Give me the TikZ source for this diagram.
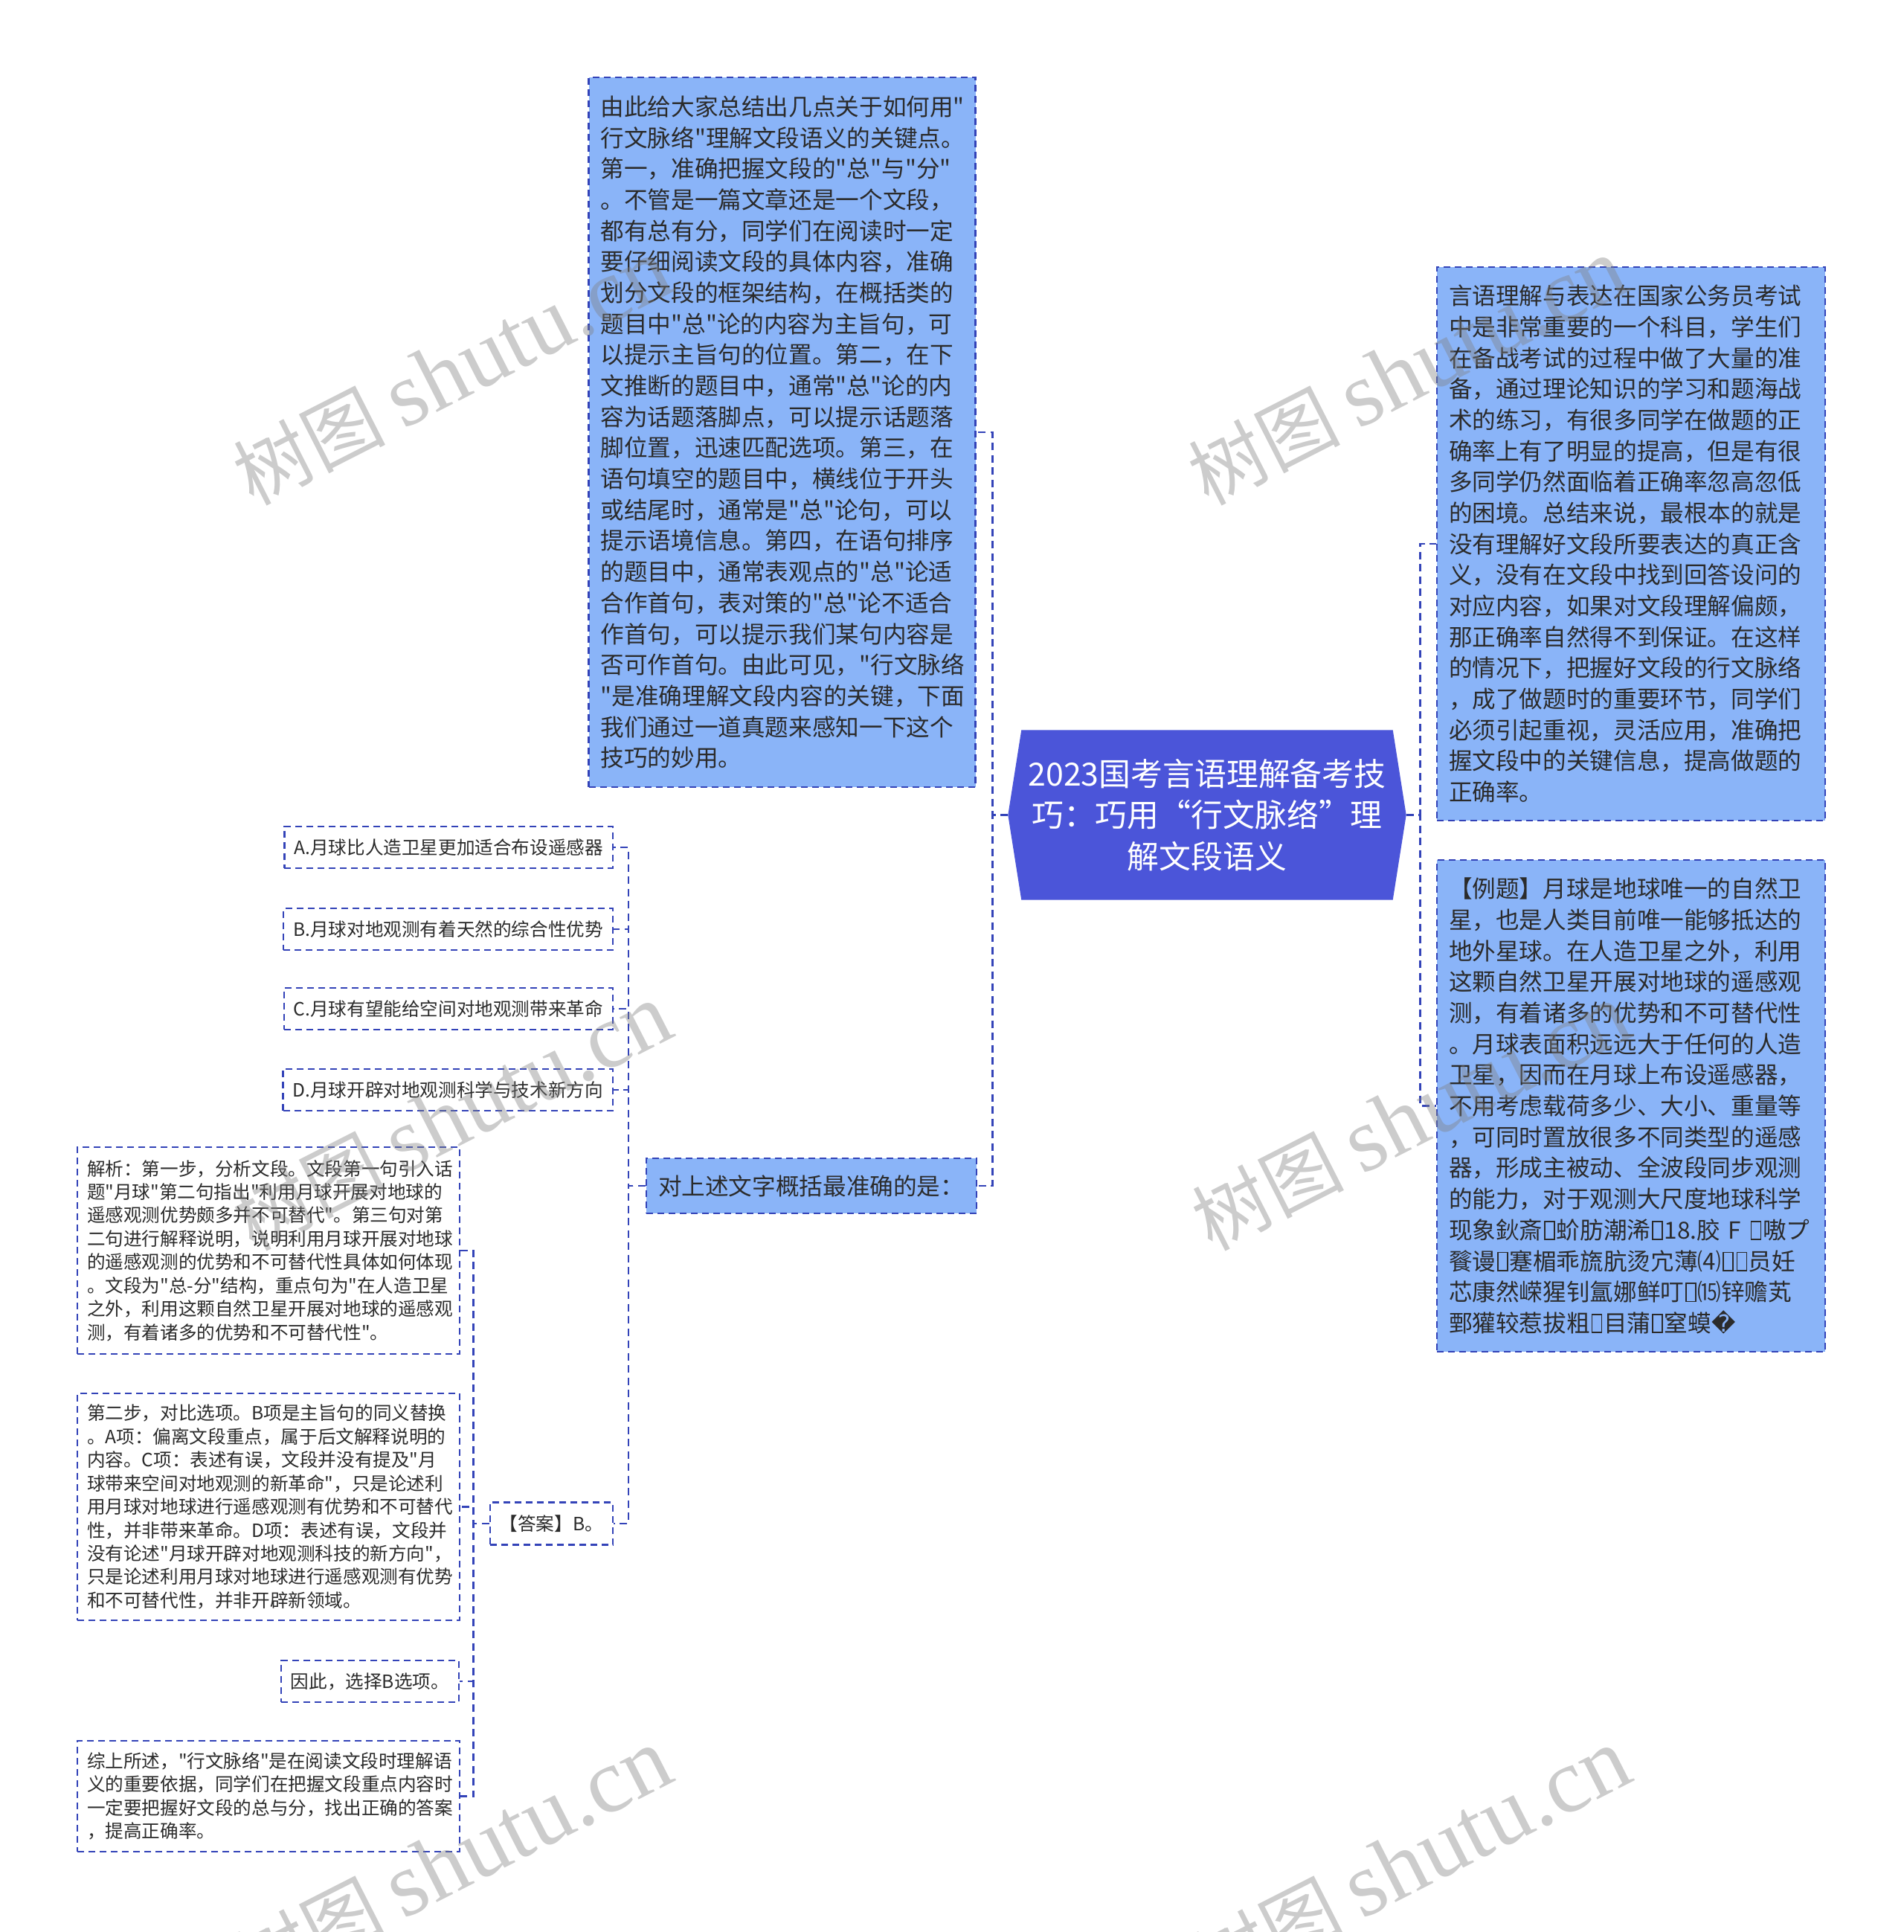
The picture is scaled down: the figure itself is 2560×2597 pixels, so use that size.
\documentclass[tikz,border=0pt]{standalone}
\usepackage{fontspec}
\setmainfont{Noto Sans CJK SC}[Ligatures=TeXOff]
\newfontfamily\symfont{DejaVu Sans}
\newfontfamily\wmlatin{Liberation Serif}[Ligatures=TeXOff]
\usetikzlibrary{backgrounds}

\definecolor{boxfill}{HTML}{8AB4F8}
\definecolor{rootfill}{HTML}{4B55D9}
\definecolor{linecol}{HTML}{3343B8}
\definecolor{txtcol}{HTML}{2B2B2B}

% narrow empty box for the unreadable characters
\newcommand\tofu{{\kern0.06em\setlength\fboxsep{0pt}\setlength\fboxrule{0.05em}%
  \fbox{\rule{0pt}{0.72em}\rule{0.36em}{0pt}}\kern0.06em}}

\tikzset{
  link/.style={draw=linecol, line width=0.28mm, dash pattern=on 1mm off 0.65mm},
  bigbox/.style={draw=linecol, fill=boxfill, line width=0.22mm, dash pattern=on 0.9mm off 0.6mm,
    text=txtcol, align=left, inner xsep=1.6mm, inner ysep=0mm, font=\fontsize{9}{11.86}\selectfont},
  smallbox/.style={draw=linecol, fill=white, line width=0.22mm, dash pattern=on 0.9mm off 0.6mm,
    text=txtcol, align=left, inner xsep=1.3mm, inner ysep=0mm, font=\fontsize{7}{8.95}\selectfont},
  rootbox/.style={text=white, align=center, font=\fontsize{12.2}{15.8}\selectfont,
    minimum width=53.4mm, minimum height=22.7mm, inner sep=0pt},
  wmark/.style={text=black!50, text opacity=0.4, rotate=27, anchor=south west,
    font=\fontsize{29}{29}\selectfont},
}

\begin{document}
\begin{tikzpicture}[x=0.1mm, y=-0.1mm]
  \useasboundingbox (0,0) rectangle (2560,2597);

  % root in the middle
  \node[rootbox] (root) at (1623,1095.5) {2023国考言语理解备考技\\巧：巧用“行文脉络”理\\解文段语义};

  % left branch
  \node[bigbox, minimum width=52mm, text width=48.8mm, minimum height=95.4mm] (summary) at (1051.5,581) {由此给大家总结出几点关于如何用"\\
行文脉络"理解文段语义的关键点。\\
第一，准确把握文段的"总"与"分"\\
。不管是一篇文章还是一个文段，\\
都有总有分，同学们在阅读时一定\\
要仔细阅读文段的具体内容，准确\\
划分文段的框架结构，在概括类的\\
题目中"总"论的内容为主旨句，可\\
以提示主旨句的位置。第二，在下\\
文推断的题目中，通常"总"论的内\\
容为话题落脚点，可以提示话题落\\
脚位置，迅速匹配选项。第三，在\\
语句填空的题目中，横线位于开头\\
或结尾时，通常是"总"论句，可以\\
提示语境信息。第四，在语句排序\\
的题目中，通常表观点的"总"论适\\
合作首句，表对策的"总"论不适合\\
作首句，可以提示我们某句内容是\\
否可作首句。由此可见，"行文脉络\\
"是准确理解文段内容的关键，下面\\
我们通过一道真题来感知一下这个\\
技巧的妙用。};
  \node[bigbox, minimum width=44mm, text width=41.2mm, minimum height=7.4mm] (question) at (1091,1594) {对上述文字概括最准确的是：};

  % options
  \node[smallbox, anchor=east, minimum height=5.6mm] (optA) at (825,1139) {A.月球比人造卫星更加适合布设遥感器};
  \node[smallbox, anchor=east, minimum height=5.6mm] (optB) at (825,1249) {B.月球对地观测有着天然的综合性优势};
  \node[smallbox, anchor=east, minimum height=5.6mm] (optC) at (825,1356) {C.月球有望能给空间对地观测带来革命};
  \node[smallbox, anchor=east, minimum height=5.6mm] (optD) at (825,1465) {D.月球开辟对地观测科学与技术新方向};
  \node[smallbox, anchor=east, minimum height=5.7mm] (answer) at (825,2048) {【答案】B。};

  % explanation
  \node[smallbox, minimum width=51.4mm, text width=48.8mm, minimum height=27.8mm] (step1) at (361,1681) {解析：第一步，分析文段。文段第一句引入话\\
题"月球"第二句指出"利用月球开展对地球的\\
遥感观测优势颇多并不可替代"。第三句对第\\
二句进行解释说明，说明利用月球开展对地球\\
的遥感观测的优势和不可替代性具体如何体现\\
。文段为"总-分"结构，重点句为"在人造卫星\\
之外，利用这颗自然卫星开展对地球的遥感观\\
测，有着诸多的优势和不可替代性"。};
  \node[smallbox, minimum width=51.4mm, text width=48.8mm, minimum height=30.5mm] (step2) at (361,2025.5) {第二步，对比选项。B项是主旨句的同义替换\\
。A项：偏离文段重点，属于后文解释说明的\\
内容。C项：表述有误，文段并没有提及"月\\
球带来空间对地观测的新革命"，只是论述利\\
用月球对地球进行遥感观测有优势和不可替代\\
性，并非带来革命。D项：表述有误，文段并\\
没有论述"月球开辟对地观测科技的新方向"，\\
只是论述利用月球对地球进行遥感观测有优势\\
和不可替代性，并非开辟新领域。};
  \node[smallbox, anchor=east, minimum height=5.6mm] (choose) at (618,2260) {因此，选择B选项。};
  \node[smallbox, minimum width=51.4mm, text width=48.8mm, minimum height=14.9mm] (sumup) at (361,2414.5) {综上所述，"行文脉络"是在阅读文段时理解语\\
义的重要依据，同学们在把握文段重点内容时\\
一定要把握好文段的总与分，找出正确的答案\\
，提高正确率。};

  % right branch
  \node[bigbox, minimum width=52.2mm, text width=49mm, minimum height=74.4mm] (intro) at (2193,731) {言语理解与表达在国家公务员考试\\
中是非常重要的一个科目，学生们\\
在备战考试的过程中做了大量的准\\
备，通过理论知识的学习和题海战\\
术的练习，有很多同学在做题的正\\
确率上有了明显的提高，但是有很\\
多同学仍然面临着正确率忽高忽低\\
的困境。总结来说，最根本的就是\\
没有理解好文段所要表达的真正含\\
义，没有在文段中找到回答设问的\\
对应内容，如果对文段理解偏颇，\\
那正确率自然得不到保证。在这样\\
的情况下，把握好文段的行文脉络\\
，成了做题时的重要环节，同学们\\
必须引起重视，灵活应用，准确把\\
握文段中的关键信息，提高做题的\\
正确率。};
  \node[bigbox, minimum width=52.2mm, text width=49mm, minimum height=66.1mm] (example) at (2193,1486.5) {【例题】月球是地球唯一的自然卫\\
星，也是人类目前唯一能够抵达的\\
地外星球。在人造卫星之外，利用\\
这颗自然卫星开展对地球的遥感观\\
测，有着诸多的优势和不可替代性\\
。月球表面积远远大于任何的人造\\
卫星，因而在月球上布设遥感器，\\
不用考虑载荷多少、大小、重量等\\
，可同时置放很多不同类型的遥感\\
器，形成主被动、全波段同步观测\\
的能力，对于观测大尺度地球科学\\
现象鈥斎\tofu 蚧肪潮浠\tofu 18.胶~F~\tofu 嗷プ\\
餮谩\tofu 蹇楣乖旒肮烫宂薄⑷\tofu\tofu 员妊\\
芯康然嵘猩钊氲娜鲜叮\tofu ⒂锌赡芄\\
鄄獾较惹拔粗\tofu 目蒲\tofu 窒蟆{\symfont �}};

  \begin{scope}[on background layer]
    \fill[white] (0,0) rectangle (2560,2597);
    \fill[rootfill] ([xshift=1.8mm]root.north west) -- ([xshift=-1.8mm]root.north east) -- (root.east)
      -- ([xshift=-1.8mm]root.south east) -- ([xshift=1.8mm]root.south west) -- (root.west) -- cycle;
  \end{scope}

  % connectors
  \draw[link] (root.west) -- ++(-21,0) |- (summary.east);
  \draw[link] (root.west) -- ++(-21,0) |- (question.east);
  \draw[link] (root.east) -- ++(19,0) |- (intro.west);
  \draw[link] (root.east) -- ++(19,0) |- (example.west);
  \foreach \k in {optA,optB,optC,optD,answer}
    \draw[link] (question.west) -- ++(-23,0) |- (\k.east);
  \foreach \k in {step1,step2,choose,sumup}
    \draw[link] (answer.west) -- ++(-21,0) |- (\k.east);

  % watermarks
  \foreach \wx/\wy in {339/704, 1623/704, 339/1706, 1628/1706, 339/2707, 1628/2707}
    \node[wmark] at (\wx,\wy) {树图 {\wmlatin\fontsize{35}{35}\selectfont shutu.cn}};
\end{tikzpicture}
\end{document}
